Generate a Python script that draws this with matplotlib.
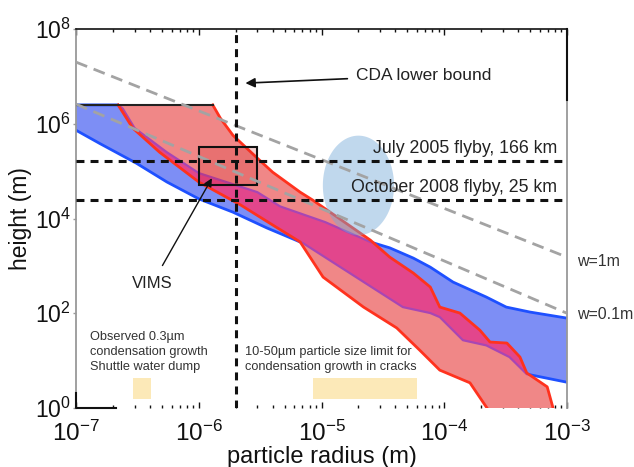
import numpy as np
import matplotlib
matplotlib.use('Agg')
import matplotlib.pyplot as plt
from matplotlib.patches import Rectangle
from matplotlib.ticker import LogLocator, NullLocator, NullFormatter

plt.rcParams['font.family'] = ['Liberation Sans', 'DejaVu Sans']
plt.rcParams['mathtext.default'] = 'regular'

# ---------------- data ----------------
band_top = 2.5e6

blue_upper_x = [1e-7, 2.2e-7, 2.4e-7, 3.0e-7, 5.5e-7, 1.0e-6, 3.0e-6, 4.6e-6, 1.07e-5,
                2.5e-5, 3.6e-5, 5.6e-5, 7.7e-5, 1.18e-4, 2.2e-4, 3.2e-4, 5.0e-4, 1e-3]
blue_upper_y = [2.5e6, 2.5e6, 2.1e6, 8.1e5, 2.5e5, 9.1e4, 3.6e4, 1.8e4, 8.4e3,
                3.2e3, 2.4e3, 1.46e3, 940, 455, 220, 135, 106, 79]

blue_lower_x = [1e-7, 1.57e-7, 3.1e-7, 5.5e-7, 1.0e-6, 1.9e-6, 3.6e-6, 7.1e-6, 1.8e-5,
                4.6e-5, 7.7e-5, 9.2e-5, 1.42e-4, 2.2e-4, 3.4e-4, 4.7e-4, 1e-3]
blue_lower_y = [7.3e5, 3.8e5, 1.47e5, 5.9e4, 2.6e4, 1.36e4, 6.3e3, 3.0e3, 640,
                135, 101, 83, 27, 21, 11.9, 5.2, 3.5]

red_upper_x = [2.2e-7, 1.3e-6, 1.5e-6, 1.9e-6, 3.0e-6, 4.0e-6, 6.7e-6, 8.5e-6, 2.5e-5,
               3.6e-5, 5.6e-5, 7.7e-5, 9.2e-5, 1.34e-4, 1.95e-4, 2.36e-4, 3.24e-4,
               4.14e-4, 4.7e-4, 6.9e-4, 7.7e-4]
red_upper_y = [2.5e6, 2.5e6, 1.31e6, 5.7e5, 1.88e5, 9.5e4, 3.6e4, 2.44e4, 3.5e3,
               1.53e3, 705, 357, 135, 101, 44, 24.7, 23.5, 11.9, 5.5, 2.8, 1.0]

red_lower_x = [2.2e-7, 2.9e-7, 4.8e-7, 1.0e-6, 2.2e-6, 4.0e-6, 6.7e-6, 1.03e-5, 2.2e-5,
               4.1e-5, 6.3e-5, 9.2e-5, 1.62e-4, 2.23e-4]
red_lower_y = [2.5e6, 8.1e5, 2.5e5, 5.9e4, 1.92e4, 7.3e3, 3.2e3, 580, 135,
               49, 16.7, 6.3, 3.4, 1.0]

w1_x = [1e-7, 1e-3]
w1_y = [2.0e7, 1.53e3]
w01_x = [1e-7, 1e-3]
w01_y = [2.6e6, 100]

cda_bound = 2e-6
july_alt = 1.66e5
oct_alt = 2.5e4

vims_x = (1e-6, 3e-6)
vims_y = (5e4, 3.2e5)

ell_center = (2e-5, 5e4)
ell_halfdec = (0.29, 1.05)

shuttle_x = (2.9e-7, 4.1e-7)
shuttle_y = (1.55, 4.3)
cracks_x = (8.5e-6, 6.0e-5)
cracks_y = (1.55, 4.3)

x_ticks = [1e-7, 1e-6, 1e-5, 1e-4, 1e-3]
y_ticks = [1e0, 1e2, 1e4, 1e6, 1e8]

# ---------------- colours ----------------
BLUE_FILL = '#7d8ef5'
BLUE_LINE = '#1e50ff'
SALMON = '#f08787'
MAGENTA = '#e2468c'
PURPLE = '#a846b4'
RED_LINE = '#ff321e'

fig = plt.figure(figsize=(6.34, 4.67), dpi=100)
ax = fig.add_axes([0.1199, 0.1263, 0.7744, 0.8116])
ax.set_xscale('log')
ax.set_yscale('log')
ax.set_xlim(1e-7, 1e-3)
ax.set_ylim(1, 1e8)

# yellow boxes
for (xx, yy) in [(shuttle_x, shuttle_y), (cracks_x, cracks_y)]:
    ax.add_patch(Rectangle((xx[0], yy[0]), xx[1] - xx[0], yy[1] - yy[0],
                           facecolor='#fce9b8', edgecolor='none', zorder=1))

# blue band
bx = np.concatenate([blue_upper_x, blue_lower_x[::-1]])
by = np.concatenate([blue_upper_y, blue_lower_y[::-1]])
ax.fill(bx, by, color=BLUE_FILL, lw=0, zorder=2)
ax.plot(blue_upper_x, blue_upper_y, color=BLUE_LINE, lw=2, zorder=2.1)
ax.plot(blue_lower_x, blue_lower_y, color=BLUE_LINE, lw=2, zorder=2.1)

# red band
rx = np.concatenate([red_upper_x, red_lower_x[::-1]])
ry = np.concatenate([red_upper_y, red_lower_y[::-1]])
red_poly = ax.fill(rx, ry, color=SALMON, lw=0, zorder=3)[0]
mag = ax.fill(bx, by, color=MAGENTA, lw=0, zorder=3.1)[0]
mag.set_clip_path(red_poly)
for xs, ys in [(blue_upper_x, blue_upper_y), (blue_lower_x, blue_lower_y)]:
    ln, = ax.plot(xs, ys, color=PURPLE, lw=1.6, zorder=3.2)
    ln.set_clip_path(red_poly)
ax.plot(red_upper_x[1:], red_upper_y[1:], color=RED_LINE, lw=2, zorder=3.3)
ax.plot(red_lower_x, red_lower_y, color=RED_LINE, lw=2, zorder=3.3)
ax.plot([blue_upper_x[0], red_upper_x[1]], [band_top, band_top], color='#222222', lw=1.5, zorder=3.4)

# ellipse (drawn in log space)
t = np.linspace(0, 2 * np.pi, 200)
ex = 10 ** (np.log10(ell_center[0]) + ell_halfdec[0] * np.cos(t))
ey = 10 ** (np.log10(ell_center[1]) + ell_halfdec[1] * np.sin(t))
ax.fill(ex, ey, color='#74a9d8', alpha=0.45, lw=0, zorder=4)

# VIMS box
ax.add_patch(Rectangle((vims_x[0], vims_y[0]), vims_x[1] - vims_x[0], vims_y[1] - vims_y[0],
                       facecolor=(0.8, 0.1, 0.1, 0.2), edgecolor='#111111', lw=1.5, zorder=5))

# gray dashed w lines
ax.plot(w1_x, w1_y, color='#a3a3a3', lw=2, dashes=(4.3, 2.5), zorder=5.5)
ax.plot(w01_x, w01_y, color='#a3a3a3', lw=2, dashes=(4.3, 2.5), zorder=5.5)

# black dashed lines
ax.axvline(cda_bound, color='#111111', lw=2.2, dashes=(2.6, 2), zorder=6)
ax.axhline(july_alt, color='#111111', lw=2.2, dashes=(2.6, 2), zorder=6)
ax.axhline(oct_alt, color='#111111', lw=2.2, dashes=(2.6, 2), zorder=6)

# texts
ax.text(8.3e-4, 3.06e5, 'July 2005 flyby, 166 km', ha='right', va='center',
        fontsize=12.8, color='#222222', zorder=7)
ax.text(8.3e-4, 4.6e4, 'October 2008 flyby, 25 km', ha='right', va='center',
        fontsize=12.8, color='#222222', zorder=7)
ax.annotate('CDA lower bound', xy=(2.4e-6, 7.2e6), xytext=(1.9e-5, 1.05e7),
            ha='left', va='center', fontsize=12.5, color='#222222', zorder=7,
            arrowprops=dict(arrowstyle='-|>', color='#111111', lw=1.2,
                            mutation_scale=14, shrinkA=4, shrinkB=0))
ax.annotate('VIMS', xy=(1.28e-6, 7.1e4), xytext=(4.2e-7, 434),
            ha='center', va='center', fontsize=12, color='#222222', zorder=7,
            arrowprops=dict(arrowstyle='-|>', color='#111111', lw=1.0,
                            mutation_scale=12, shrinkA=6, shrinkB=0))
ax.text(1.2e-3, 1.25e3, 'w=1m', ha='left', va='center', fontsize=11.5,
        color='#333333', clip_on=False)
ax.text(1.2e-3, 96, 'w=0.1m', ha='left', va='center', fontsize=11.5,
        color='#333333', clip_on=False)
ax.text(1.3e-7, 42, 'Observed 0.3\u00b5m\ncondensation growth\nShuttle water dump',
        ha='left', va='top', fontsize=9.2, color='#333333', linespacing=1.35, zorder=7)
ax.text(2.38e-6, 20.3, '10-50\u00b5m particle size limit for\ncondensation growth in cracks',
        ha='left', va='top', fontsize=9.2, color='#333333', linespacing=1.35, zorder=7)

# axes styling
ax.set_xticks(x_ticks)
ax.set_yticks(y_ticks)
ax.xaxis.set_minor_locator(LogLocator(base=10, subs=np.arange(2, 10), numticks=20))
ax.xaxis.set_minor_formatter(NullFormatter())
ax.yaxis.set_minor_locator(NullLocator())
ax.tick_params(axis='x', which='both', direction='in', top=True, bottom=True,
               labelsize=17.5, pad=9, colors='#111111')
ax.tick_params(axis='x', which='major', length=4, width=1)
ax.tick_params(axis='x', which='minor', length=2.5, width=1)
ax.tick_params(axis='y', which='major', direction='out', length=2, width=1,
               color='#999999', labelcolor='#111111', labelsize=16.5, pad=1.5)
ax.set_xlabel('particle radius (m)', fontsize=17, labelpad=0, color='#111111')
ax.set_ylabel('height (m)', fontsize=16.5, labelpad=2, color='#111111')

ax.spines['bottom'].set_visible(False)
ax.spines['left'].set_color('#999999')
ax.spines['left'].set_linewidth(1.3)
ax.spines['right'].set_color('#999999')
ax.spines['right'].set_linewidth(1.3)
ax.spines['top'].set_color('#111111')
ax.spines['top'].set_linewidth(1.2)
# black corner pieces of the frame
ax.plot([1e-7, 1e-7, 2.1e-7], [2.1, 1, 1], color='#111111', lw=1.5, clip_on=False, zorder=8)
ax.plot([1e-3, 1e-3], [1e8, 3.2e6], color='#111111', lw=1.5, clip_on=False, zorder=8)

fig.savefig('out.png', dpi=100)
